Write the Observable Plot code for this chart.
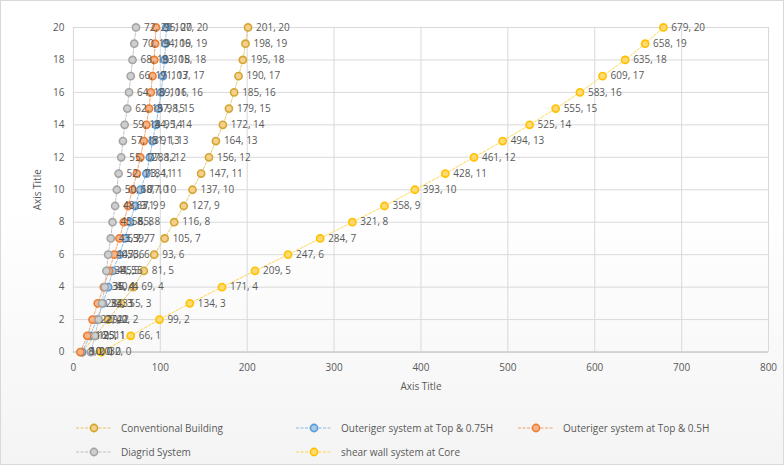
<!DOCTYPE html>
<html>
<head>
<meta charset="utf-8">
<script src="https://cdn.jsdelivr.net/npm/d3@7"></script>
<script src="https://cdn.jsdelivr.net/npm/@observablehq/plot@0.6"></script>
<style>
  html, body { margin: 0; padding: 0; background: #fff; }
  #chart { position: relative; width: 784px; height: 465px; box-sizing: border-box; border: 1px solid #d9d9d9; overflow: hidden;
           background: linear-gradient(to bottom, #ffffff 0%, #ffffff 45%, #f4f4f4 100%); font-family: "Open Sans", sans-serif; }
  #plot { position: absolute; left: -1px; top: -1px; }
  #legend { position: absolute; left: 0; top: 399px; width: 784px; height: 66px; font-family: "Open Sans", sans-serif; font-size: 10px; color: #595959; }
  .item { position: absolute; display: flex; align-items: center; height: 20px; }
  .item svg { margin-right: 9px; }
</style>
</head>
<body>
<div id="chart">
  <div id="plot"></div>
  <div id="legend"></div>
</div>
<script>
const storeys = [0,1,2,3,4,5,6,7,8,9,10,11,12,13,14,15,16,17,18,19,20];
const conventional = [10,25,40,55,69,81,93,105,116,127,137,147,156,164,172,179,185,190,195,198,201];
const outrigger075 = [10,19,27,34,40,45,53,59,65,71,77,84,88,91,95,98,101,103,105,106,107];
const outrigger05 = [8,16,22,28,35,41,47,53,58,63,68,73,77,81,84,87,89,91,93,94,95];
const diagrid = [20,25,29,33,36,38,40,43,45,48,50,52,55,57,59,62,64,66,68,70,72];
const shearWall = [32,66,99,134,171,209,247,284,321,358,393,428,461,494,525,555,583,609,635,658,679];

const seriesNames = ["Conventional Building", "Outeriger system at Top & 0.75H", "Outeriger system at Top & 0.5H", "Diagrid System", "shear wall system at Core"];
const xTicks = [0,100,200,300,400,500,600,700,800];
const yTicks = [0,2,4,6,8,10,12,14,16,18,20];

const styles = [
  {stroke: "#D2A632", fill: "#F6D08A", line: "#E2C46A"},
  {stroke: "#5B9BD5", fill: "#A9CBEA", line: "#8DB9E2"},
  {stroke: "#ED7D31", fill: "#F5B48A", line: "#F0A06A"},
  {stroke: "#A5A5A5", fill: "#CFCFCF", line: "#BDBDBD"},
  {stroke: "#FFC000", fill: "#FFDA70", line: "#FFD44D"}
];
const valueSets = [conventional, outrigger075, outrigger05, diagrid, shearWall];

const series = seriesNames.map((name, k) => ({
  name, ...styles[k],
  rows: valueSets[k].map((v, i) => ({x: v, y: storeys[i], series: name}))
}));

const textStyle = {fontFamily: "Open Sans, sans-serif", fontSize: 10, fill: "#595959"};

const chart = Plot.plot({
  width: 784, height: 400,
  marginLeft: 73, marginRight: 15, marginTop: 27, marginBottom: 48,
  style: {fontFamily: "Open Sans, sans-serif", fontSize: "10px", color: "#595959", background: "transparent", overflow: "visible"},
  x: {domain: [0, 800]},
  y: {domain: [0, 20]},
  marks: [
    Plot.gridX(xTicks, {stroke: "#d9d9d9", strokeOpacity: 1}),
    Plot.gridY(yTicks, {stroke: "#d9d9d9", strokeOpacity: 1}),
    Plot.ruleY([0], {stroke: "#bfbfbf"}),
    Plot.axisX(xTicks, {tickSize: 0, tickPadding: 12, fill: "#595959", fontSize: 10, label: "Axis Title", labelAnchor: "center", labelArrow: "none", labelOffset: 38}),
    Plot.axisY(yTicks, {tickSize: 0, tickPadding: 9, fill: "#595959", fontSize: 10, label: "Axis Title", labelAnchor: "center", labelArrow: "none", labelOffset: 40}),
    ...series.map(s => Plot.line(s.rows, {x: "x", y: "y", stroke: s.line, strokeWidth: 1, strokeDasharray: "3,1.5", strokeOpacity: 0.9})),
    ...series.map(s => Plot.dot(s.rows, {x: "x", y: "y", r: 3.6, stroke: s.stroke, fill: s.fill, strokeWidth: 1.6})),
    ...series.map(s => Plot.text(s.rows, {x: "x", y: "y", text: d => `${d.x}, ${d.y}`, dx: 8, textAnchor: "start", ...textStyle}))
  ]
});
document.getElementById("plot").appendChild(chart);

// Legend
const legendPos = [[75, 18], [295, 18], [517, 18], [75, 42], [295, 42]];
const legend = document.getElementById("legend");
series.forEach((s, k) => {
  const div = document.createElement("div");
  div.className = "item";
  div.style.left = legendPos[k][0] + "px";
  div.style.top = legendPos[k][1] + "px";
  div.innerHTML = `<svg width="36" height="10"><line x1="0" y1="5" x2="36" y2="5" stroke="${s.line}" stroke-width="1" stroke-dasharray="3,1.5"/><circle cx="18" cy="5" r="3.6" fill="${s.fill}" stroke="${s.stroke}" stroke-width="1.6"/></svg><span>${s.name}</span>`;
  legend.appendChild(div);
});
</script>
</body>
</html>
